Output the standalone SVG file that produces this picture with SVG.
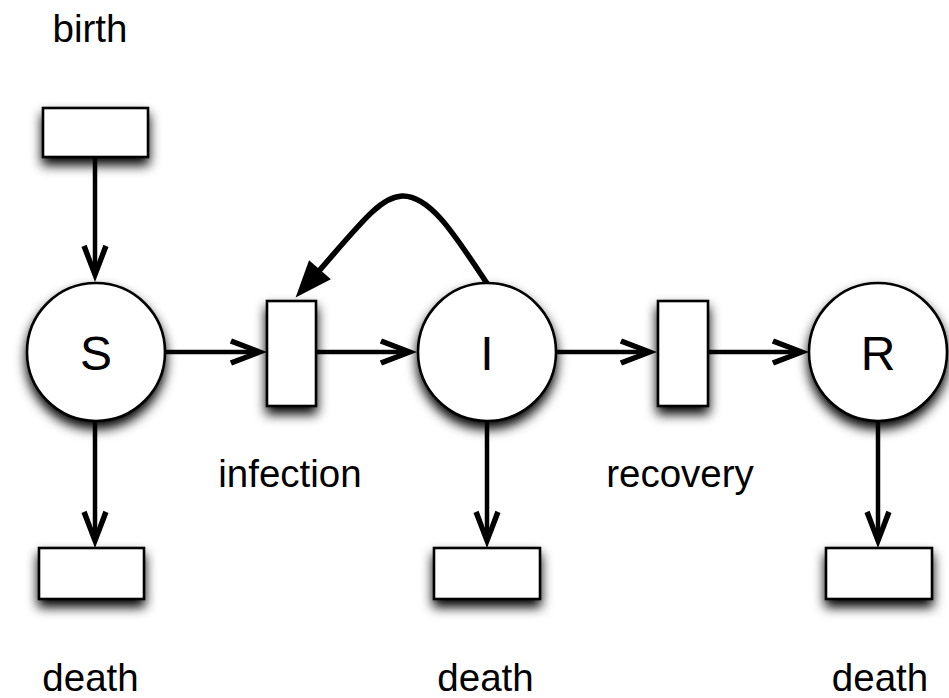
<svg xmlns="http://www.w3.org/2000/svg" width="949" height="698" viewBox="0 0 949 698">
  <style>
    .node { fill: #ffffff; stroke: #000000; stroke-width: 2.6; filter: url(#shadow); }
    .lbl { font-family: "Liberation Sans", Arial, sans-serif; font-size: 38.5px; fill: #000000; text-anchor: middle; }
    .big { font-family: "Liberation Sans", Arial, sans-serif; font-size: 48px; fill: #000000; text-anchor: middle; }
    .edge { fill: none; stroke: #000000; stroke-width: 4.5; marker-end: url(#chev); }
    .loop { fill: none; stroke: #000000; stroke-width: 5.5; marker-end: url(#tri); }
  </style>
  <defs>
    <filter id="shadow" x="-40%" y="-40%" width="180%" height="190%">
      <feGaussianBlur in="SourceAlpha" stdDeviation="6"/>
      <feOffset dx="0" dy="7" result="b"/>
      <feComponentTransfer><feFuncA type="linear" slope="1"/></feComponentTransfer>
      <feMerge><feMergeNode/><feMergeNode in="SourceGraphic"/></feMerge>
    </filter>
    <marker id="chev" markerUnits="userSpaceOnUse" viewBox="-40 -16 42 32" refX="-10" refY="0" markerWidth="42" markerHeight="32" orient="auto" overflow="visible">
      <path d="M0,0 L-35,-13.5 L-37.2,-8.4 L-14.5,0 L-37.2,8.4 L-35,13.5 Z" fill="#000000"/>
    </marker>
    <marker id="tri" markerUnits="userSpaceOnUse" viewBox="-40 -16 42 32" refX="-34" refY="0" markerWidth="42" markerHeight="32" orient="auto" overflow="visible">
      <path d="M0,0 L-37,-14.5 L-37,14.5 Z" fill="#000000"/>
    </marker>
  </defs>
  <rect width="949" height="698" fill="#ffffff"/>

  <g id="connectors">
    <line class="edge" x1="95" y1="157" x2="95" y2="272"/>
    <line class="edge" x1="166" y1="352" x2="257" y2="352"/>
    <line class="edge" x1="316" y1="352" x2="407" y2="352"/>
    <line class="edge" x1="556" y1="352" x2="647" y2="352"/>
    <line class="edge" x1="708" y1="352" x2="799" y2="352"/>
    <line class="edge" x1="95" y1="421" x2="95" y2="538"/>
    <line class="edge" x1="487" y1="421" x2="487" y2="538"/>
    <line class="edge" x1="878" y1="421" x2="878" y2="538"/>
    <path class="loop" d="M488,285 C455,235 430,195 402,196 C380,197 360,224 318,272"/>
  </g>

  <g id="birth">
    <rect class="node" x="43" y="108" width="105" height="49"/>
    <text class="lbl" x="90" y="42">birth</text>
  </g>
  <g id="S">
    <circle class="node" cx="96" cy="352" r="69"/>
    <text class="big" x="96" y="370">S</text>
  </g>
  <g id="infection">
    <rect class="node" x="267" y="301" width="49" height="105"/>
    <text class="lbl" x="290" y="487">infection</text>
  </g>
  <g id="I">
    <circle class="node" cx="487" cy="352" r="69"/>
    <text class="big" x="487" y="370">I</text>
  </g>
  <g id="recovery">
    <rect class="node" x="658" y="301" width="50" height="105"/>
    <text class="lbl" x="680" y="487">recovery</text>
  </g>
  <g id="R">
    <circle class="node" cx="878" cy="352" r="69"/>
    <text class="big" x="878" y="370">R</text>
  </g>
  <g id="deathS">
    <rect class="node" x="39" y="548" width="105" height="51"/>
    <text class="lbl" x="90.5" y="691">death</text>
  </g>
  <g id="deathI">
    <rect class="node" x="434" y="548" width="106" height="51"/>
    <text class="lbl" x="485.5" y="691">death</text>
  </g>
  <g id="deathR">
    <rect class="node" x="826" y="548" width="106" height="51"/>
    <text class="lbl" x="880" y="691">death</text>
  </g>
</svg>
